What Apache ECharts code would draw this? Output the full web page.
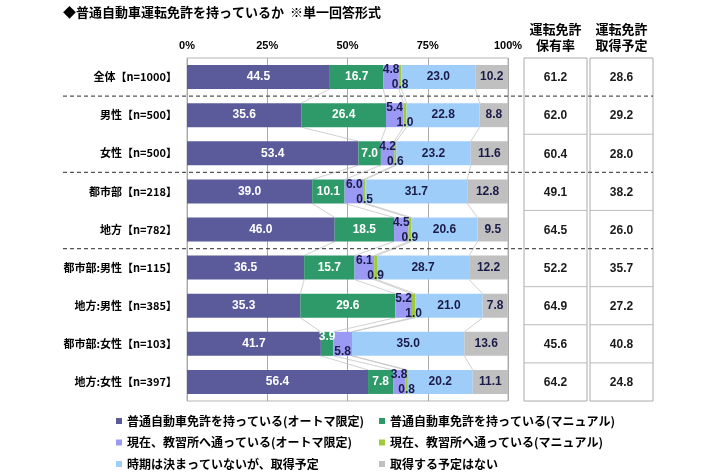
<!DOCTYPE html>
<html>
<head>
<meta charset="utf-8">
<script src="https://cdn.jsdelivr.net/npm/echarts@6/dist/echarts.min.js"></script>
<style>
  html, body { margin: 0; padding: 0; background: #fff; }
  #main { width: 710px; height: 474px; }
</style>
</head>
<body>
<div id="main"></div>
<script>
// 区分
var cats = ['全体【n=1000】', '男性【n=500】', '女性【n=500】', '都市部【n=218】', '地方【n=782】',
            '都市部:男性【n=115】', '地方:男性【n=385】', '都市部:女性【n=103】', '地方:女性【n=397】'];
var names = ['普通自動車免許を持っている(オートマ限定)', '普通自動車免許を持っている(マニュアル)',
             '現在、教習所へ通っている(オートマ限定)', '現在、教習所へ通っている(マニュアル)',
             '時期は決まっていないが、取得予定', '取得する予定はない'];
var autoLic   = [44.5, 35.6, 53.4, 39.0, 46.0, 36.5, 35.3, 41.7, 56.4];
var manualLic = [16.7, 26.4, 7.0, 10.1, 18.5, 15.7, 29.6, 3.9, 7.8];
var schoolAt  = [4.8, 5.4, 4.2, 6.0, 4.5, 6.1, 5.2, 5.8, 3.8];
var schoolMt  = [0.8, 1.0, 0.6, 0.5, 0.9, 0.9, 1.0, 0.0, 0.8];
var planned   = [23.0, 22.8, 23.2, 31.7, 20.6, 28.7, 21.0, 35.0, 20.2];
var noPlan    = [10.2, 8.8, 11.6, 12.8, 9.5, 12.2, 7.8, 13.6, 11.1];
// 右の表
var holdRate  = [61.2, 62.0, 60.4, 49.1, 64.5, 52.2, 64.9, 45.6, 64.2];
var planRate  = [28.6, 29.2, 28.0, 38.2, 26.0, 35.7, 27.2, 40.8, 24.8];
var groupEnds = [0, 2, 4];   // 点線で区切る行
var xTicks = [0, 25, 50, 75, 100];

var colors = ['#5b5b9c', '#2f9a69', '#9a9af5', '#9fcb3a', '#9fcdfa', '#c0c0c0'];
var labelColors = ['#fff', '#fff', '#1b1b48', '#1b1b48', '#1b1b48', '#1b1b48'];
var vals = [autoLic, manualLic, schoolAt, schoolMt, planned, noPlan];

var JP = '"Noto Sans CJK JP", sans-serif';
var NUM = '"Liberation Sans", Arial, sans-serif';
var BAR_W = 24;

// 小さい値のラベルを上下にずらす
var offsets = vals.map(function () { return cats.map(function () { return [0, 0]; }); });
cats.forEach(function (c, i) {
  var n = 0;
  for (var s = 1; s <= 3; s++) {
    var v = vals[s][i];
    if (v > 0 && v < 7) {
      offsets[s][i] = (n % 2 === 0) ? [0, -7] : [0, 8];
      n++;
    }
  }
});

var series = vals.map(function (arr, s) {
  return {
    name: names[s],
    type: 'bar',
    stack: 'all',
    barWidth: BAR_W,
    z: 3,
    itemStyle: { color: colors[s] },
    label: {
      show: true,
      position: 'inside',
      color: labelColors[s],
      fontFamily: NUM,
      fontWeight: 'bold',
      fontSize: 12,
      formatter: function (p) { return p.value > 0 ? p.value.toFixed(1) : ''; }
    },
    data: arr.map(function (v, i) {
      return { value: v, label: { offset: offsets[s][i] } };
    })
  };
});

var legendStyle = {
  orient: 'vertical',
  icon: 'rect',
  itemWidth: 6,
  itemHeight: 6,
  itemGap: 7.5,
  itemTextGap: 3,
  padding: 0,
  top: 414,
  textStyle: { fontFamily: JP, fontWeight: 'bold', fontSize: 12, color: '#000', lineHeight: 14 }
};

var chart = echarts.init(document.getElementById('main'));
chart.setOption({
  animation: false,
  title: {
    text: '◆普通自動車運転免許を持っているか  ※単一回答形式',
    left: 63,
    top: 6,
    padding: 0,
    textStyle: { fontFamily: JP, fontWeight: 'bold', fontSize: 13, color: '#000' }
  },
  legend: [
    Object.assign({}, legendStyle, { left: 116, data: [names[0], names[2], names[4]] }),
    Object.assign({}, legendStyle, { left: 379, data: [names[1], names[3], names[5]] })
  ],
  grid: {
    left: 187, right: 202, top: 58, bottom: 73,
    show: true, borderColor: '#b4b4b4', borderWidth: 1
  },
  xAxis: {
    type: 'value',
    position: 'top',
    min: xTicks[0],
    max: xTicks[xTicks.length - 1],
    interval: xTicks[1] - xTicks[0],
    axisLine: { show: false },
    axisTick: { show: false },
    splitLine: { show: true, lineStyle: { color: '#a8a8a8', width: 1 } },
    axisLabel: {
      margin: 7,
      formatter: '{value}%',
      fontFamily: NUM,
      fontWeight: 'bold',
      fontSize: 11,
      color: '#000'
    }
  },
  yAxis: {
    type: 'category',
    inverse: true,
    data: cats,
    axisLine: { show: false },
    axisTick: { show: false },
    axisLabel: { margin: 10, fontFamily: JP, fontWeight: 'bold', fontSize: 11, color: '#000' }
  },
  series: series
});

var toPx = function (x, i) { return chart.convertToPixel({ xAxisIndex: 0, yAxisIndex: 0 }, [x, i]); };
var yOf = function (i) { return toPx(0, i)[1]; };
var g = [];

// 系列線 (棒の境目どうしを結ぶ)
var cum = cats.map(function (c, i) {
  var t = 0;
  return vals.slice(0, 5).map(function (arr) { t += arr[i]; return t; });
});
for (var i = 0; i < cats.length - 1; i++) {
  for (var k = 0; k < 5; k++) {
    var a = toPx(cum[i][k], i);
    var b = toPx(cum[i + 1][k], i + 1);
    g.push({
      type: 'line',
      silent: true,
      shape: { x1: a[0], y1: a[1] + BAR_W / 2, x2: b[0], y2: b[1] - BAR_W / 2 },
      style: { stroke: '#c4c4c4', lineWidth: 0.8 }
    });
  }
}

// 右の表と点線
var colBoxes = [[524, 587], [590, 653]];
var heads = ['運転免許\n保有率', '運転免許\n取得予定'];
var tableVals = [holdRate, planRate];
var band = yOf(1) - yOf(0);
var tblTop = yOf(0) - band / 2;
var tblBottom = yOf(cats.length - 1) + band / 2;

colBoxes.forEach(function (cb, c) {
  g.push({
    type: 'rect',
    shape: { x: cb[0], y: tblTop, width: cb[1] - cb[0], height: tblBottom - tblTop },
    style: { fill: 'none', stroke: '#aaaaaa', lineWidth: 1 }
  });
  g.push({
    type: 'text',
    x: (cb[0] + cb[1]) / 2,
    y: tblTop - 5,
    style: {
      text: heads[c], fill: '#000', fontFamily: JP, fontWeight: 'bold', fontSize: 13,
      lineHeight: 16, align: 'center', verticalAlign: 'bottom'
    }
  });
  cats.forEach(function (cat, i) {
    g.push({
      type: 'text',
      x: (cb[0] + cb[1]) / 2,
      y: yOf(i) + 1,
      style: {
        text: tableVals[c][i].toFixed(1), fill: '#1a1a1a', fontFamily: NUM, fontWeight: 'bold',
        fontSize: 12, align: 'center', verticalAlign: 'middle'
      }
    });
    if (i < cats.length - 1 && groupEnds.indexOf(i) < 0) {
      var ly = (yOf(i) + yOf(i + 1)) / 2;
      g.push({
        type: 'line',
        shape: { x1: cb[0], y1: ly, x2: cb[1], y2: ly },
        style: { stroke: '#bbbbbb', lineWidth: 1 }
      });
    }
  });
});

groupEnds.forEach(function (i) {
  var ly = (yOf(i) + yOf(i + 1)) / 2;
  g.push({
    type: 'line',
    z: 10,
    shape: { x1: 63, y1: ly, x2: 653, y2: ly },
    style: { stroke: '#555555', lineWidth: 1.2, lineDash: [4, 3] }
  });
});

chart.setOption({ graphic: g });
</script>
</body>
</html>
